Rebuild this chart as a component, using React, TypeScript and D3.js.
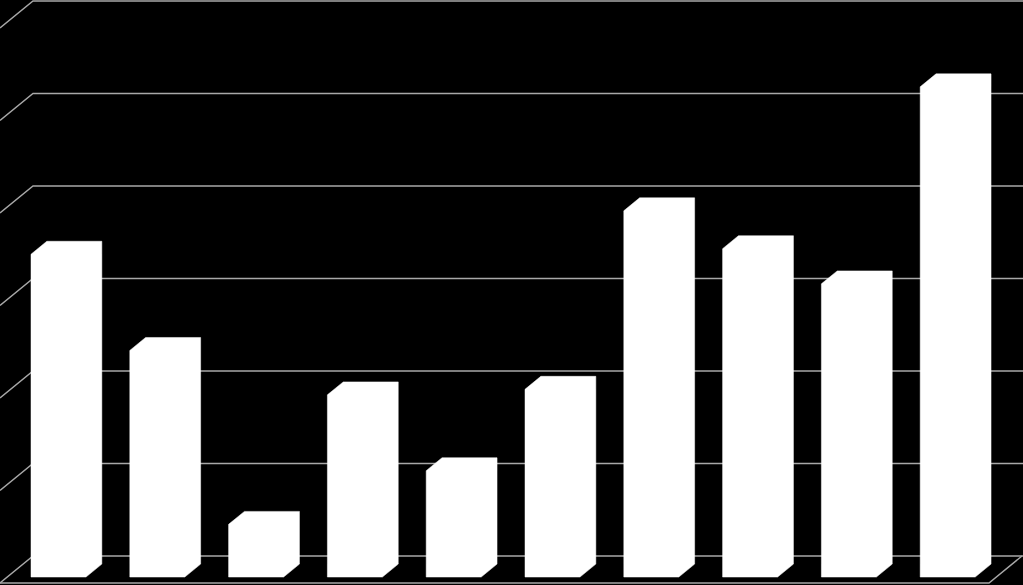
import React from "react";
import * as d3 from "d3";

const categories = ["1", "2", "3", "4", "5", "6", "7", "8", "9", "10"];
const values = [34.9, 24.5, 5.7, 19.7, 11.5, 20.3, 39.6, 35.5, 31.7, 53.0];
const gridTicks = [0, 10, 20, 30, 40, 50, 60];

const W = 1023;
const H = 585;
// depth of the floor / side wall (full depth)
const DX = 33;
const DY = 27;
const floorFrontY = 583;
const wallLeft = 0; // front-left x
const wallRight = 989; // front-right x
const dFront = 0.22;
const dBack = 0.7;

export default function App() {
  const yBack = d3.scaleLinear().domain([0, 60]).range([floorFrontY - DY, 1]);
  const x = d3
    .scaleBand<string>()
    .domain(categories)
    .range([14, 14 + 98.8 * categories.length])
    .paddingInner(0)
    .paddingOuter(0);
  const h = d3.scaleLinear().domain([0, 60]).range([0, floorFrontY - DY - 1]);
  const frontW = 55;
  const gridColor = "#a8a8a8";

  const lines: React.ReactNode[] = [];
  gridTicks.forEach((t, i) => {
    const y = yBack(t);
    lines.push(
      <path
        key={"g" + i}
        d={`M${wallLeft},${y + DY} L${wallLeft + DX},${y} L${W},${y}`}
        fill="none"
        stroke={gridColor}
        strokeWidth={1.4}
      />
    );
  });

  const bars = categories.map((c, i) => {
    const x0 = (x(c) as number) + 17 + DX * dFront * 0; // front-left x
    const bx = DX * (dBack - dFront);
    const by = DY * (dBack - dFront);
    const yF0 = floorFrontY - DY * dFront; // front bottom
    const hh = h(values[i]);
    const yTopF = yF0 - hh;
    const p = [
      [x0, yF0],
      [x0, yTopF],
      [x0 + bx, yTopF - by],
      [x0 + frontW + bx, yTopF - by],
      [x0 + frontW + bx, yF0 - by],
      [x0 + frontW, yF0],
    ];
    return (
      <polygon
        key={c}
        points={p.map((q) => q.join(",")).join(" ")}
        fill="#ffffff"
        stroke="#ffffff"
        strokeWidth={0.5}
      />
    );
  });

  const floorBackY = floorFrontY - DY;
  return (
    <div style={{ position: "absolute", left: 0, top: 0, width: W, height: H }}>
      <svg width={W} height={H} style={{ display: "block", background: "#000" }}>
        <rect x={0} y={0} width={W} height={H} fill="#000" />
        {lines}
        <path
          d={`M${wallLeft},${floorFrontY} L${wallRight},${floorFrontY} L${wallRight + DX},${floorBackY}`}
          fill="none"
          stroke={gridColor}
          strokeWidth={1.4}
        />
        {bars}
      </svg>
    </div>
  );
}
